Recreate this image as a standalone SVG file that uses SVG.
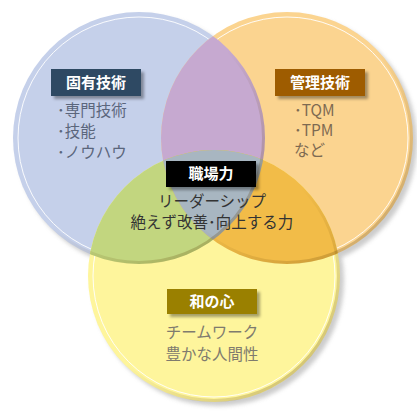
<svg xmlns="http://www.w3.org/2000/svg" width="417" height="412" viewBox="0 0 417 412">
<defs>
<style>
.lbl{font-family:"Noto Sans CJK JP","Noto Sans",sans-serif;font-size:15px;font-weight:bold;fill:#fff;text-anchor:middle}
.txt{font-family:"Noto Sans CJK JP","Noto Sans",sans-serif;font-size:15.5px}
.inner{fill:none;stroke:#fff;stroke-width:1;opacity:0.9}
.rim{fill:none;stroke:url(#rimg);stroke-width:3}
</style>
<linearGradient id="rimg" x1="0" y1="0" x2="1" y2="1">
<stop offset="0" stop-color="#5a3a00" stop-opacity="0"/>
<stop offset="0.5" stop-color="#5a3a00" stop-opacity="0"/>
<stop offset="1" stop-color="#5a3a00" stop-opacity="0.35"/>
</linearGradient>
<filter id="sh" x="-10%" y="-10%" width="130%" height="130%"><feGaussianBlur stdDeviation="2"/></filter>
<filter id="bs" x="-20%" y="-30%" width="150%" height="170%"><feDropShadow dx="3" dy="3" stdDeviation="1.5" flood-color="#000" flood-opacity="0.35"/></filter>
<clipPath id="cB"><circle cx="139" cy="138" r="126"/></clipPath>
<clipPath id="cO"><circle cx="287" cy="138" r="126"/></clipPath>
<clipPath id="cY"><circle cx="214" cy="276" r="126"/></clipPath>
</defs>

<g id="shadows" fill="#bfbfbf" opacity="0.8" filter="url(#sh)">
<circle cx="143" cy="142" r="126"/>
<circle cx="291" cy="142" r="126"/>
<circle cx="218" cy="280" r="126"/>
</g>

<g id="circle-blue">
<circle cx="139" cy="138" r="126" fill="#C5D0EA"/>
<circle class="inner" cx="139" cy="138" r="121"/>
</g>
<g id="circle-orange">
<circle cx="287" cy="138" r="126" fill="#FBD490"/>
<circle class="inner" cx="287" cy="138" r="121"/>
</g>
<g id="circle-yellow">
<circle cx="214" cy="276" r="126" fill="#FEF59C"/>
<circle class="inner" cx="214" cy="276" r="121"/>
</g>

<g id="overlaps">
<g clip-path="url(#cB)"><circle cx="287" cy="138" r="126" fill="#C6A9D0"/></g>
<g clip-path="url(#cB)"><circle cx="214" cy="276" r="126" fill="#C2D67F"/></g>
<g clip-path="url(#cO)"><circle cx="214" cy="276" r="126" fill="#F2BC48"/></g>
<g clip-path="url(#cO)"><g clip-path="url(#cB)"><circle cx="214" cy="276" r="126" fill="#A8B6C1"/></g></g>
</g>

<g id="rims">
<circle class="rim" cx="139" cy="138" r="124.5"/>
<circle class="rim" cx="287" cy="138" r="124.5"/>
<circle class="rim" cx="214" cy="276" r="124.5"/>
</g>

<g id="node-koyu">
<rect x="51" y="69" width="90" height="27" fill="#2D4963" filter="url(#bs)"/>
<text class="lbl" x="96" y="88">固有技術</text>
<text class="txt" fill="#5B667C"><tspan x="57" y="116">･専門技術</tspan><tspan x="57" y="137">･技能</tspan><tspan x="57" y="158">･ノウハウ</tspan></text>
</g>

<g id="node-kanri">
<rect x="275" y="69" width="90" height="27" fill="#9E5B00" filter="url(#bs)"/>
<text class="lbl" x="320" y="88">管理技術</text>
<text class="txt" fill="#7E6A52"><tspan x="294" y="116">･TQM</tspan><tspan x="294" y="136">･TPM</tspan><tspan x="294" y="156">など</tspan></text>
</g>

<g id="node-shokuba">
<rect x="166" y="161" width="90" height="26" fill="#000" filter="url(#bs)"/>
<text class="lbl" x="211" y="179">職場力</text>
<text class="txt" fill="#333" text-anchor="middle"><tspan x="212" y="207">リーダーシップ</tspan><tspan x="212" y="228">絶えず改善･向上する力</tspan></text>
</g>

<g id="node-wa">
<rect x="167" y="289" width="90" height="25" fill="#9A8000" filter="url(#bs)"/>
<text class="lbl" x="212" y="307">和の心</text>
<text class="txt" fill="#7F7B6E" text-anchor="middle"><tspan x="212" y="338">チームワーク</tspan><tspan x="212" y="360">豊かな人間性</tspan></text>
</g>
</svg>
